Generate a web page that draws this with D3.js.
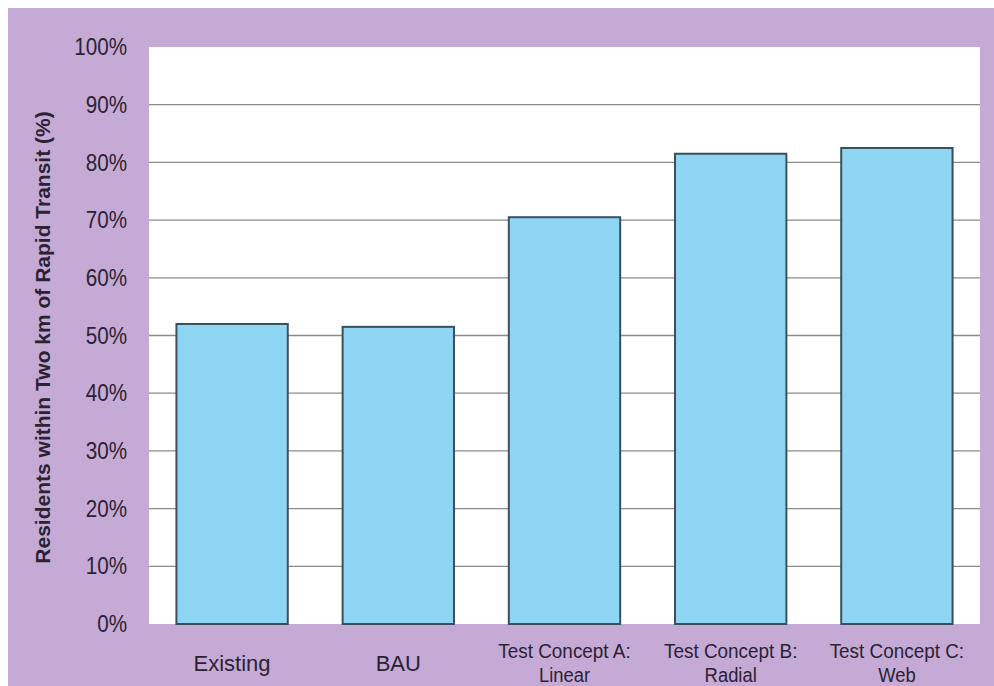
<!DOCTYPE html>
<html>
<head>
<meta charset="utf-8">
<script src="https://cdn.jsdelivr.net/npm/d3@7"></script>
<style>
  html, body { margin: 0; padding: 0; background: #ffffff; }
  svg { display: block; }
  text { font-family: "Liberation Sans", Arial, sans-serif; fill: #2b2233; }
</style>
</head>
<body>
<svg id="chart" width="994" height="686"></svg>
<script>
// Share of residents living within two km of rapid transit, per scenario
const categories = ["Existing", "BAU", "Test Concept A:|Linear", "Test Concept B:|Radial", "Test Concept C:|Web"];
const values = [52, 51.5, 70.5, 81.5, 82.5];
const yTicks = [0, 10, 20, 30, 40, 50, 60, 70, 80, 90, 100];
const yTitle = "Residents within Two km of Rapid Transit (%)";

const W = 994, H = 686;
const plot = { left: 149, right: 980, top: 47, bottom: 624 };

const svg = d3.select("#chart");

// squeeze a text element horizontally to a fraction of its natural width
function condense(sel, k) {
  sel.each(function () {
    const len = this.getComputedTextLength();
    d3.select(this).attr("textLength", len * k).attr("lengthAdjust", "spacingAndGlyphs");
  });
}

// purple panel behind the chart, thin white margin at top/left
svg.append("rect").attr("x", 8).attr("y", 8).attr("width", W - 8).attr("height", H - 8)
  .attr("fill", "#c5aad5");

// white plot area
svg.append("rect")
  .attr("x", plot.left).attr("y", plot.top)
  .attr("width", plot.right - plot.left).attr("height", plot.bottom - plot.top)
  .attr("fill", "#ffffff");

const x = d3.scaleBand().domain(categories).range([plot.left, plot.right]).paddingInner(0.33).paddingOuter(0.165);
const y = d3.scaleLinear().domain([0, 100]).range([plot.bottom, plot.top]);

// gridlines
svg.append("g").selectAll("line").data(yTicks.filter(d => d > 0 && d < 100)).join("line")
  .attr("x1", plot.left).attr("x2", plot.right)
  .attr("y1", d => y(d)).attr("y2", d => y(d))
  .attr("stroke", "#8a8a8a").attr("stroke-width", 1.3);

// y axis tick labels
const yAxis = d3.axisLeft(y).tickValues(yTicks).tickFormat(d => d + "%").tickSize(0).tickPadding(22);
const gy = svg.append("g").attr("transform", `translate(${plot.left},0)`).call(yAxis);
gy.select(".domain").remove();
gy.selectAll("text").attr("font-size", 24).attr("fill", "#2b2233")
  .attr("font-family", "'Liberation Sans', Arial, sans-serif")
  .call(condense, 0.86);

// bars
svg.append("g").selectAll("rect").data(categories).join("rect")
  .attr("x", d => x(d)).attr("width", x.bandwidth())
  .attr("y", (d, i) => y(values[i]))
  .attr("height", (d, i) => y(0) - y(values[i]))
  .attr("fill", "#8fd6f5").attr("stroke", "#3c4f5c").attr("stroke-width", 2);

// x labels (two lines where the name has a subtitle)
const xl = svg.append("g");
categories.forEach(c => {
  const parts = c.split("|");
  const cx = x(c) + x.bandwidth() / 2;
  if (parts.length === 1) {
    xl.append("text").attr("x", cx).attr("y", 671).attr("text-anchor", "middle")
      .attr("font-size", 22).text(parts[0]);
  } else {
    xl.append("text").attr("x", cx).attr("y", 658).attr("text-anchor", "middle")
      .attr("font-size", 21).text(parts[0]).call(condense, 0.9);
    xl.append("text").attr("x", cx).attr("y", 682).attr("text-anchor", "middle")
      .attr("font-size", 20).text(parts[1]).call(condense, 0.92);
  }
});

// y axis title
svg.append("text")
  .attr("transform", `translate(50, ${(plot.top + plot.bottom) / 2 + 2}) rotate(-90)`)
  .attr("text-anchor", "middle").attr("font-size", 21).attr("font-weight", "bold")
  .text(yTitle).call(condense, 1.0);
</script>
</body>
</html>
